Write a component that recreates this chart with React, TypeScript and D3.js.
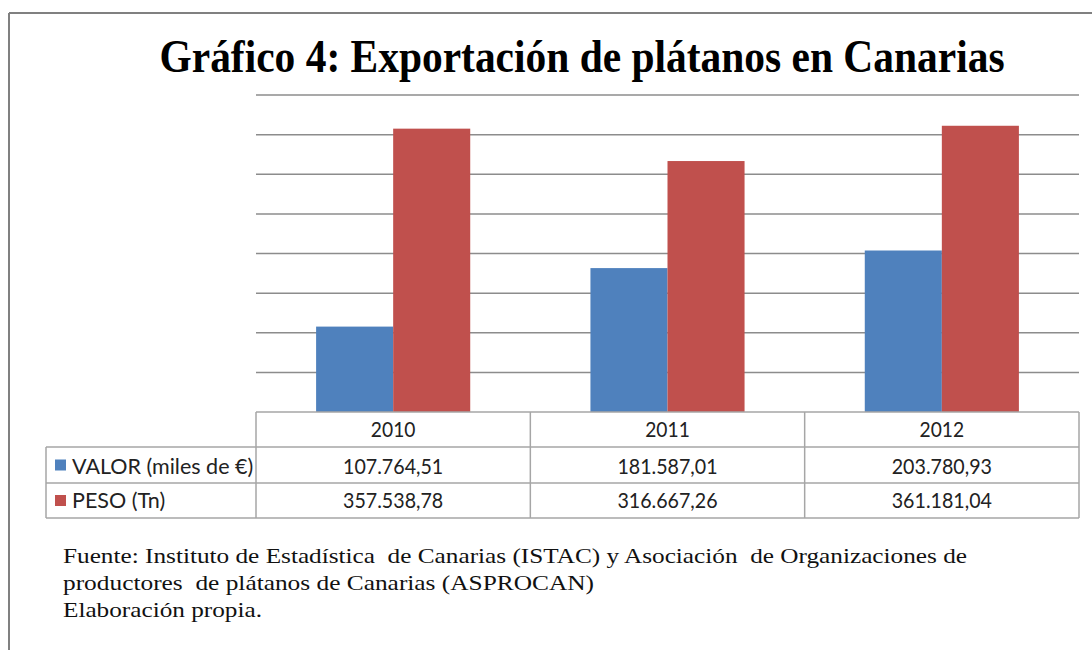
import React from "react";
import * as d3 from "d3";

const years = ["2010", "2011", "2012"];
const seriesNames = ["VALOR (miles de €)", "PESO (Tn)"];
const valor = [107764.51, 181587.01, 203780.93];
const peso = [357538.78, 316667.26, 361181.04];
const colors = ["#4f81bd", "#c0504d"];
const titleText = "Gráfico 4: Exportación de plátanos en Canarias";
const footerLines = [
  "Fuente: Instituto de Estadística  de Canarias (ISTAC) y Asociación  de Organizaciones de",
  "productores  de plátanos de Canarias (ASPROCAN)",
  "Elaboración propia.",
];

const W = 1092;
const H = 650;
const plot = { left: 256, right: 1079, top: 95, bottom: 412 };
const rowLines = [412, 447, 483, 518];
const tableLeft = 46;

const esLocale = d3.formatLocale({
  decimal: ",",
  thousands: ".",
  grouping: [3],
  currency: ["", "€"],
});
const fmt = esLocale.format(",.2f");

// ancho aproximado de números en Calibri 22px
const numWidth = (s: string) =>
  s.split("").reduce((acc, c) => acc + (/[0-9]/.test(c) ? 11.15 : 5.5), 0);

export default function App() {
  const series = [valor, peso];

  const y = d3.scaleLinear().domain([0, 400000]).range([plot.bottom, plot.top]);
  const x0 = d3.scaleBand().domain(years).range([plot.left, plot.right]).padding(0);
  const x1 = d3
    .scaleBand()
    .domain(seriesNames)
    .range([0, x0.bandwidth()])
    .paddingInner(0)
    .paddingOuter(0.78);

  const grid = y.ticks(8).filter((t) => t > 0);
  const tableFont = "Lato, 'Noto Sans', sans-serif";
  const serif = "'Liberation Serif', 'Times New Roman', serif";
  const gray = "#a6a6a6";
  const fs = 21;

  return (
    <svg
      width={W}
      height={H}
      style={{ position: "absolute", left: 0, top: 0, display: "block", background: "#fff" }}
    >
      {/* marco */}
      <line x1={9} y1={13} x2={W} y2={13} stroke="#808080" strokeWidth={2} />
      <line x1={9} y1={13} x2={9} y2={H} stroke="#808080" strokeWidth={2} />

      <g transform="translate(582,72) scale(1,1.15)">
        <text
          x={0}
          y={0}
          textAnchor="middle"
          fontFamily={serif}
          fontWeight="bold"
          fontSize={40}
          textLength={845}
          lengthAdjust="spacingAndGlyphs"
          fill="#000"
        >
          {titleText}
        </text>
      </g>

      {/* líneas de división */}
      {grid.map((t) => (
        <line
          key={t}
          x1={plot.left}
          x2={plot.right}
          y1={y(t)}
          y2={y(t)}
          stroke="#8c8c8c"
          strokeWidth={1.5}
        />
      ))}

      {/* barras */}
      {series.map((vals, si) =>
        vals.map((v, i) => (
          <rect
            key={`${si}-${i}`}
            x={(x0(years[i]) as number) + (x1(seriesNames[si]) as number)}
            y={y(v)}
            width={x1.bandwidth()}
            height={y(0) - y(v)}
            fill={colors[si]}
          />
        ))
      )}

      {/* tabla de datos */}
      <line x1={plot.left} x2={plot.right} y1={rowLines[0]} y2={rowLines[0]} stroke={gray} strokeWidth={1.5} />
      {rowLines.slice(1).map((ry) => (
        <line key={ry} x1={tableLeft} x2={plot.right} y1={ry} y2={ry} stroke={gray} strokeWidth={1.5} />
      ))}
      <line x1={tableLeft} x2={tableLeft} y1={rowLines[1]} y2={rowLines[3]} stroke={gray} strokeWidth={1.5} />
      {[...years.map((yr) => x0(yr) as number), plot.right].map((vx) => (
        <line key={vx} x1={vx} x2={vx} y1={rowLines[0]} y2={rowLines[3]} stroke={gray} strokeWidth={1.5} />
      ))}

      {years.map((yr) => (
        <text
          key={yr}
          x={(x0(yr) as number) + x0.bandwidth() / 2}
          y={437}
          textAnchor="middle"
          fontFamily={tableFont}
          fontSize={fs}
          textLength={numWidth(yr)}
          lengthAdjust="spacingAndGlyphs"
          fill="#222"
        >
          {yr}
        </text>
      ))}

      {series.map((vals, si) => {
        const top = rowLines[si + 1];
        const bot = rowLines[si + 2];
        const mid = (top + bot) / 2;
        const base = si === 0 ? 474 : 508;
        return (
          <g key={si}>
            <rect x={55} y={mid - 5.5} width={11} height={11} fill={colors[si]} />
            <text x={72} y={base} fontFamily={tableFont} fontSize={fs + 0.5} fill="#222">
              {seriesNames[si]}
            </text>
            {vals.map((v, i) => (
              <text
                key={i}
                x={(x0(years[i]) as number) + x0.bandwidth() / 2}
                y={base}
                textAnchor="middle"
                fontFamily={tableFont}
                fontSize={fs}
                textLength={numWidth(fmt(v))}
                lengthAdjust="spacingAndGlyphs"
                fill="#222"
              >
                {fmt(v)}
              </text>
            ))}
          </g>
        );
      })}

      {/* fuente */}
      {footerLines.map((ln, i) => (
        <g key={i} transform={`translate(63,${563 + i * 27}) scale(1,1.1)`}>
          <text
            x={0}
            y={0}
            fontFamily={serif}
            fontSize={20}
            textLength={[904, 531, 199][i]}
            lengthAdjust="spacingAndGlyphs"
            fill="#111"
            style={{ whiteSpace: "pre" }}
          >
            {ln}
          </text>
        </g>
      ))}
    </svg>
  );
}
